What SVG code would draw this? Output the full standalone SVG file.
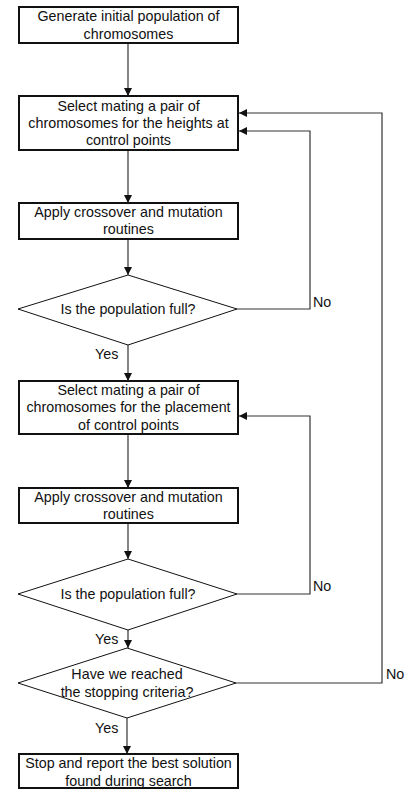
<svg xmlns="http://www.w3.org/2000/svg" width="411" height="790" viewBox="0 0 411 790">
<style>
.box{fill:#fff;stroke:#111;stroke-width:2}
.dia{fill:#fff;stroke:#111;stroke-width:1}
.ln{fill:none;stroke:#333;stroke-width:1.2}
text{font-family:"Liberation Sans",Arial,sans-serif;font-size:14.3px;fill:#111}
.c{text-anchor:middle}
</style>
<defs>
<marker id="ah" viewBox="0 0 10 10" refX="10" refY="5" markerWidth="8" markerHeight="8" markerUnits="userSpaceOnUse" orient="auto">
<path d="M0,0 L10,5 L0,10 z" fill="#111"/>
</marker>
</defs>
<rect width="411" height="790" fill="#fff"/>
<g id="connectors">
<line class="ln" x1="128" y1="44" x2="128" y2="96" marker-end="url(#ah)"/>
<line class="ln" x1="128" y1="151" x2="128" y2="203" marker-end="url(#ah)"/>
<line class="ln" x1="128" y1="240" x2="128" y2="275" marker-end="url(#ah)"/>
<polyline class="ln" points="237,309 310,309 310,131 239,131" marker-end="url(#ah)"/>
<line class="ln" x1="128" y1="345" x2="128" y2="381" marker-end="url(#ah)"/>
<line class="ln" x1="128" y1="435" x2="128" y2="488" marker-end="url(#ah)"/>
<line class="ln" x1="128" y1="524" x2="128" y2="559" marker-end="url(#ah)"/>
<polyline class="ln" points="237,594 310,594 310,416 239,416" marker-end="url(#ah)"/>
<line class="ln" x1="128" y1="630" x2="128" y2="648" marker-end="url(#ah)"/>
<polyline class="ln" points="236,683 382,683 382,113 239,113" marker-end="url(#ah)"/>
<line class="ln" x1="127" y1="718" x2="127" y2="754" marker-end="url(#ah)"/>
<text x="313" y="306.5">No</text>
<text x="313" y="590.5">No</text>
<text x="386" y="679">No</text>
<text x="95" y="359">Yes</text>
<text x="95" y="644">Yes</text>
<text x="95" y="733">Yes</text>
</g>
<g id="n1">
<rect class="box" x="19" y="7" width="219" height="36"/>
<text class="c" x="128.5" y="21">Generate initial population of</text>
<text class="c" x="128.5" y="38.5">chromosomes</text>
</g>
<g id="n2">
<rect class="box" x="19" y="96" width="219" height="54"/>
<text class="c" x="128.5" y="111">Select mating a pair of</text>
<text class="c" x="128.5" y="128">chromosomes for the heights at</text>
<text class="c" x="128.5" y="145">control points</text>
</g>
<g id="n3">
<rect class="box" x="19" y="203" width="219" height="36"/>
<text class="c" x="128.5" y="216.5">Apply crossover and mutation</text>
<text class="c" x="128.5" y="234">routines</text>
</g>
<g id="n4">
<polygon class="dia" points="128,275 237,309 128,345 18,309"/>
<text class="c" x="128" y="314">Is the population full?</text>
</g>
<g id="n5">
<rect class="box" x="19" y="381" width="219" height="53"/>
<text class="c" x="128.5" y="395">Select mating a pair of</text>
<text class="c" x="128.5" y="412.3">chromosomes for the placement</text>
<text class="c" x="128.5" y="429.5">of control points</text>
</g>
<g id="n6">
<rect class="box" x="19" y="488" width="219" height="35"/>
<text class="c" x="128.5" y="501.7">Apply crossover and mutation</text>
<text class="c" x="128.5" y="519">routines</text>
</g>
<g id="n7">
<polygon class="dia" points="128,559 237,594 128,630 18,594"/>
<text class="c" x="128" y="599">Is the population full?</text>
</g>
<g id="n8">
<polygon class="dia" points="127,648 236,683 127,718 18,683"/>
<text class="c" x="127" y="679.3">Have we reached</text>
<text class="c" x="127" y="697.3">the stopping criteria?</text>
</g>
<g id="n9">
<rect class="box" x="19" y="754" width="219" height="34"/>
<text class="c" x="128.5" y="767.7">Stop and report the best solution</text>
<text class="c" x="128.5" y="785.5">found during search</text>
</g>
</svg>
